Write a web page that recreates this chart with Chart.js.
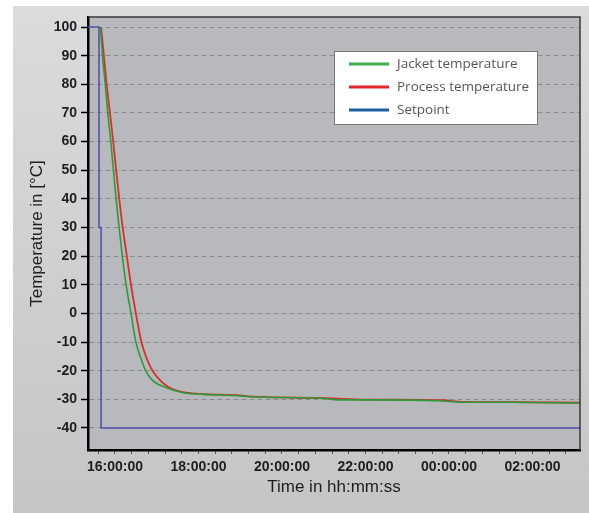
<!DOCTYPE html>
<html>
<head>
<meta charset="utf-8">
<script src="https://cdn.jsdelivr.net/npm/chart.js@4/dist/chart.umd.min.js"></script>
<style>
  body { margin: 0; background: #fff; }
  canvas { display: block; }
</style>
</head>
<body>
<canvas id="grafico_temp" width="589" height="513"></canvas>
<script>
// clock times (after midnight = next day)
const jacketTimes = ['15:39', '15:42', '15:46', '15:50', '15:54', '16:00', '16:05', '16:11', '16:16', '16:23', '16:30', '16:37', '16:44', '16:54', '17:12', '17:38', '18:02', '19:00', '19:14', '21:00', '21:20', '22:00', '23:45', '00:20', '01:30', '03:10'];
const jacketTemps = [100, 90, 80, 69, 60, 44, 32, 19, 10, 0, -10, -15.5, -20, -23.4, -25.8, -27.7, -28.2, -28.8, -29.1, -29.7, -30.2, -30.2, -30.5, -31.0, -31.0, -31.3];

const processTimes = ['15:40', '15:44', '15:48', '15:53', '15:57', '16:03', '16:10', '16:17', '16:23', '16:30', '16:38', '16:46', '16:54', '17:05', '17:16', '17:38', '18:02', '19:00', '19:14', '21:04', '22:00', '23:50', '00:20', '01:30', '03:10'];
const processTemps = [100, 90, 80, 69.5, 61, 47, 32, 20, 10, 0, -10, -16, -20, -23.4, -25.6, -27.5, -28.1, -28.6, -29.0, -29.6, -30.1, -30.3, -30.9, -31.0, -31.2];

const setpointTimes = ['15:10', '15:37', '15:37', '15:40', '15:40', '03:20'];
const setpointTemps = [100, 100, 30, 30, -40, -40];

const yTicks = [-40, -30, -20, -10, 0, 10, 20, 30, 40, 50, 60, 70, 80, 90, 100];

function toMin(t) {
  const [h, m] = t.split(':').map(Number);
  return h * 60 + m + (h < 12 ? 1440 : 0);
}
function pts(times, temps) {
  return times.map((t, i) => ({ x: toMin(t), y: temps[i] }));
}
function fmt(v) {
  const h = Math.floor(v / 60) % 24;
  return String(h).padStart(2, '0') + ':00:00';
}

const fundo = {
  id: 'fundo',
  beforeDraw(chart) {
    const { ctx, chartArea: a } = chart;
    ctx.save();
    const g = ctx.createLinearGradient(0, 6, 0, 513);
    g.addColorStop(0, '#d9dbdc');
    g.addColorStop(1, '#c3c5c7');
    ctx.fillStyle = g;
    ctx.fillRect(13, 6, 576, 507);
    ctx.fillStyle = '#b8b9bc';
    ctx.fillRect(a.left, a.top, a.right - a.left, a.bottom - a.top);
    ctx.restore();
  },
  afterDatasetsDraw(chart) {
    const { ctx, chartArea: a } = chart;
    ctx.save();
    // frame top / right
    ctx.strokeStyle = '#3a3a3a';
    ctx.lineWidth = 1.5;
    ctx.beginPath();
    ctx.moveTo(a.left, a.top);
    ctx.lineTo(a.right, a.top);
    ctx.lineTo(a.right, a.bottom);
    ctx.stroke();
    // legend box
    const x = a.right - 246, y = a.top + 34, w = 203, h = 73;
    ctx.fillStyle = '#ffffff';
    ctx.fillRect(x, y, w, h);
    ctx.strokeStyle = '#7a7a7a';
    ctx.lineWidth = 1;
    ctx.strokeRect(x + 0.5, y + 0.5, w, h);
    ctx.font = '13.5px "Open Sans"';
    ctx.textBaseline = 'middle';
    chart.data.datasets.forEach((ds, i) => {
      const cy = y + 13 + i * 23;
      ctx.strokeStyle = ds.legendColor;
      ctx.lineWidth = 3;
      ctx.beginPath();
      ctx.moveTo(x + 15, cy);
      ctx.lineTo(x + 55, cy);
      ctx.stroke();
      ctx.fillStyle = '#555';
      ctx.fillText(ds.label, x + 63, cy);
    });
    ctx.restore();
  }
};

const ctx = document.getElementById('grafico_temp').getContext('2d');
const meuGrafico = new Chart(ctx, {
  type: 'line',
  data: {
    datasets: [{
      label: 'Jacket temperature',
      data: pts(jacketTimes, jacketTemps),
      borderColor: '#2f9a3b',
      legendColor: '#3cae4a',
      borderWidth: 1.6,
      pointRadius: 0,
      cubicInterpolationMode: 'monotone'
    }, {
      label: 'Process temperature',
      data: pts(processTimes, processTemps),
      borderColor: '#d8302a',
      legendColor: '#e3242b',
      borderWidth: 1.8,
      pointRadius: 0,
      cubicInterpolationMode: 'monotone'
    }, {
      label: 'Setpoint',
      data: pts(setpointTimes, setpointTemps),
      borderColor: '#5252b0',
      legendColor: '#1f5da6',
      borderWidth: 1.6,
      pointRadius: 0,
      tension: 0
    }]
  },
  options: {
    responsive: false,
    animation: false,
    layout: { padding: { top: 17, right: 9, left: 0, bottom: 0 } },
    plugins: {
      legend: { display: false },
      tooltip: { enabled: false }
    },
    scales: {
      x: {
        type: 'linear',
        min: 921.2,
        max: 1628.3,
        afterFit(scale) { scale.height = 63; },
        afterBuildTicks(scale) {
          const t = [];
          for (let v = Math.ceil(scale.min / 24) * 24; v <= scale.max; v += 24) t.push({ value: v });
          scale.ticks = t;
        },
        ticks: {
          autoSkip: false,
          maxRotation: 0,
          padding: 5,
          color: '#1e1e1e',
          font: { family: '"Liberation Sans", Arial', size: 14, weight: 'bold' },
          callback: (v) => (v % 120 === 0 ? fmt(v) : '')
        },
        grid: { drawOnChartArea: false, tickLength: 4, tickColor: '#555', tickWidth: 1 },
        border: { color: '#000', width: 2.5 },
        title: {
          display: true,
          text: 'Time in hh:mm:ss',
          color: '#1e1e1e',
          font: { family: '"Liberation Sans", Arial', size: 17 },
          padding: { top: 0, bottom: 15 }
        }
      },
      y: {
        min: -47.7,
        max: 103.5,
        afterFit(scale) { scale.width = 88; },
        afterBuildTicks(scale) { scale.ticks = yTicks.map(v => ({ value: v })); },
        ticks: {
          padding: 4,
          color: '#1e1e1e',
          font: { family: '"Liberation Sans", Arial', size: 14, weight: 'bold' }
        },
        grid: { color: '#8b8c8f', lineWidth: 1, tickLength: 7, tickColor: '#000', tickWidth: 1.5 },
        border: { color: '#000', width: 2.5, dash: [5, 3] },
        title: {
          display: true,
          text: 'Temperature in [°C]',
          color: '#1e1e1e',
          font: { family: '"Liberation Sans", Arial', size: 17 },
          padding: { top: 27, bottom: 0 }
        }
      }
    }
  },
  plugins: [fundo]
});
</script>
</body>
</html>
